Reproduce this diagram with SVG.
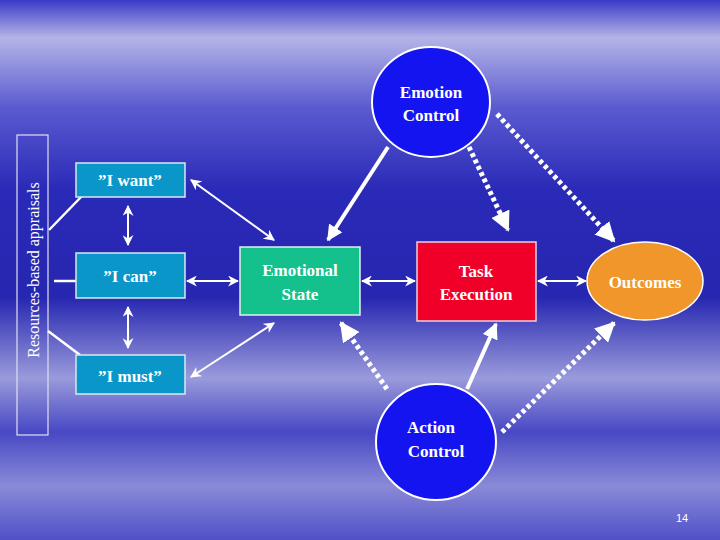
<svg xmlns="http://www.w3.org/2000/svg" width="720" height="540" viewBox="0 0 720 540">
<defs>
<linearGradient id="bg" x1="0" y1="0" x2="0" y2="1">
<stop offset="0" stop-color="#3a3ac8"/>
<stop offset="0.07" stop-color="#b4b4e8"/>
<stop offset="0.2" stop-color="#5a5ad0"/>
<stop offset="0.35" stop-color="#2a2ab8"/>
<stop offset="0.55" stop-color="#2626b0"/>
<stop offset="0.7" stop-color="#9a9adc"/>
<stop offset="0.8" stop-color="#4848c4"/>
<stop offset="0.9" stop-color="#8a8ad8"/>
<stop offset="1" stop-color="#5050c8"/>
</linearGradient>
<marker id="ah" viewBox="0 0 10 10" refX="9" refY="5" markerWidth="5.5" markerHeight="5.5" orient="auto-start-reverse"><path d="M0,0 L10,5 L0,10 L3,5 z" fill="#fff"/></marker>
<marker id="ahb" viewBox="0 0 10 10" refX="9" refY="5" markerWidth="4" markerHeight="4" orient="auto"><path d="M0,0 L10,5 L0,10 z" fill="#fff"/></marker>
</defs>
<style>
.t{font-family:"Liberation Serif",serif;font-weight:bold;font-size:17px;fill:#fff;text-anchor:middle}
.box{fill:#0a96c8;stroke:#d8e8f0;stroke-width:1.5}
.line{stroke:#fff;stroke-width:2.5;fill:none}
.thin{stroke:#fff;stroke-width:2;fill:none}
.dot{stroke:#fff;stroke-width:5;stroke-dasharray:4 3;fill:none}
</style>
<rect width="720" height="540" fill="url(#bg)"/>
<g id="bracket">
<rect x="17" y="135" width="31" height="300" fill="none" stroke="#e0e0f0" stroke-width="1.2"/>
<text x="0" y="0" transform="translate(39,270) rotate(-90)" style="font-family:'Liberation Serif',serif;font-size:16px;fill:#fff;text-anchor:middle">Resources-based appraisals</text>
</g>
<g id="connectors">
<line class="line" x1="49" y1="230" x2="82" y2="196"/>
<line class="line" x1="54" y1="281" x2="76" y2="281"/>
<line class="line" x1="48" y1="331" x2="80" y2="355"/>
<line class="thin" x1="128" y1="206" x2="128" y2="245" marker-start="url(#ah)" marker-end="url(#ah)"/>
<line class="thin" x1="128" y1="307" x2="128" y2="348" marker-start="url(#ah)" marker-end="url(#ah)"/>
<line class="thin" x1="191" y1="180" x2="274" y2="240" marker-start="url(#ah)" marker-end="url(#ah)"/>
<line class="thin" x1="187" y1="281" x2="238" y2="281" marker-start="url(#ah)" marker-end="url(#ah)"/>
<line class="thin" x1="191" y1="377" x2="274" y2="323" marker-start="url(#ah)" marker-end="url(#ah)"/>
<line class="thin" x1="362" y1="281" x2="415" y2="281" marker-start="url(#ah)" marker-end="url(#ah)"/>
<line class="thin" x1="538" y1="281" x2="586" y2="281" marker-start="url(#ah)" marker-end="url(#ah)"/>
<line class="line" style="stroke-width:4" x1="388" y1="147" x2="328" y2="240" marker-end="url(#ahb)"/>
<line class="line" style="stroke-width:4" x1="467" y1="389" x2="496" y2="324" marker-end="url(#ahb)"/>
<line class="dot" x1="469" y1="147" x2="508" y2="230" marker-end="url(#ahb)"/>
<line class="dot" x1="497" y1="114" x2="614" y2="241" marker-end="url(#ahb)"/>
<line class="dot" x1="387" y1="389" x2="341" y2="323" marker-end="url(#ahb)"/>
<line class="dot" x1="502" y1="432" x2="614" y2="323" marker-end="url(#ahb)"/>
</g>
<g id="iwant"><rect class="box" x="76" y="163" width="109" height="34"/><text class="t" x="130" y="186">”I want”</text></g>
<g id="ican"><rect class="box" x="76" y="253" width="109" height="45"/><text class="t" x="130" y="282">”I can”</text></g>
<g id="imust"><rect class="box" x="76" y="355" width="109" height="39"/><text class="t" x="130" y="382">”I must”</text></g>
<g id="emotional-state"><rect x="240" y="247" width="120" height="68" fill="#14c08c" stroke="#e0f0f0" stroke-width="1.5"/><text class="t" x="300" y="276">Emotional</text><text class="t" x="300" y="300">State</text></g>
<g id="emotion-control"><ellipse cx="431" cy="102" rx="59" ry="55" fill="#1414f0" stroke="#fff" stroke-width="2"/><text class="t" x="431" y="98">Emotion</text><text class="t" x="431" y="121">Control</text></g>
<g id="task-execution"><rect x="417" y="242" width="119" height="79" fill="#f00028" stroke="#f0d0d8" stroke-width="1.5"/><text class="t" x="476" y="277">Task</text><text class="t" x="476" y="300">Execution</text></g>
<g id="outcomes"><ellipse cx="645" cy="281" rx="58" ry="39" fill="#f0962a" stroke="#fff" stroke-width="1.5"/><text class="t" x="645" y="288">Outcomes</text></g>
<g id="action-control"><ellipse cx="436" cy="442" rx="60" ry="58" fill="#1414f0" stroke="#fff" stroke-width="2"/><text class="t" x="431" y="433">Action</text><text class="t" x="436" y="457">Control</text></g>
<text x="682" y="522" style="font-family:'Liberation Sans',sans-serif;font-size:11px;fill:#fff;text-anchor:middle">14</text>
</svg>
